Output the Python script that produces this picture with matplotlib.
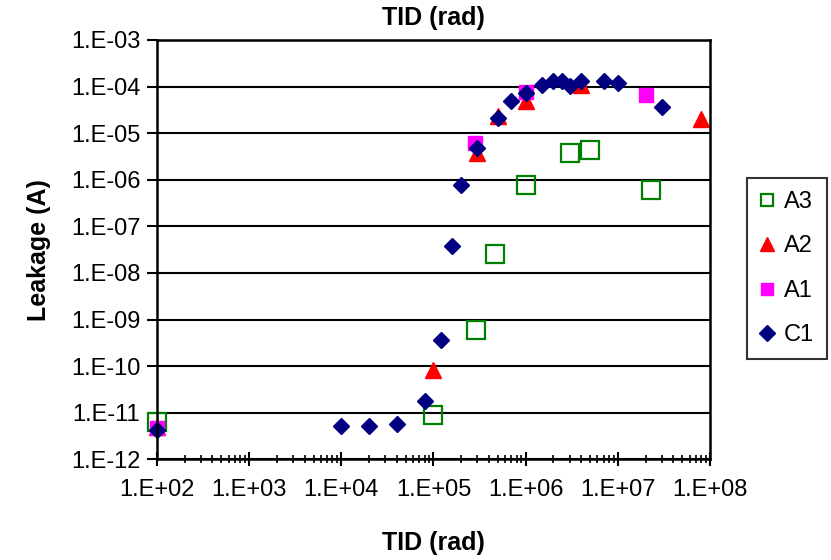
import numpy as np
import matplotlib
matplotlib.use("Agg")
import matplotlib.pyplot as plt
from matplotlib.ticker import LogLocator, FuncFormatter, NullLocator, NullFormatter

plt.rcParams['font.family'] = ['Liberation Sans', 'DejaVu Sans']

# leakage vs total ionizing dose, four parts
a3_tid = [1e2, 1e5, 2.9e5, 4.7e5, 1e6, 3e6, 5e6, 2.3e7]
a3_leak = [6.4e-12, 8.9e-12, 6.0e-10, 2.6e-8, 7.8e-7, 3.8e-6, 4.3e-6, 6.1e-7]

a2_tid = [1e2, 1e5, 3e5, 5e5, 1e6, 4e6, 8e7]
a2_leak = [5e-12, 8.2e-11, 3.7e-6, 2.35e-5, 4.9e-5, 1.09e-4, 2.0e-5]

a1_tid = [1e2, 2.85e5, 1e6, 2e7]
a1_leak = [4.6e-12, 6.1e-6, 7.7e-5, 6.7e-5]

c1_tid = [1e2, 1e4, 2e4, 4e4, 8e4, 1.2e5, 1.6e5, 2e5, 3e5, 5e5, 7e5, 1e6,
          1.5e6, 2e6, 2.5e6, 3e6, 4e6, 7e6, 1e7, 3e7]
c1_leak = [4.2e-12, 5.1e-12, 5.1e-12, 5.6e-12, 1.75e-11, 3.7e-10, 3.7e-8, 7.8e-7,
           4.8e-6, 2.1e-5, 4.8e-5, 7.4e-5, 1.07e-4, 1.32e-4, 1.3e-4, 1.03e-4,
           1.33e-4, 1.33e-4, 1.18e-4, 3.7e-5]

fig = plt.figure(figsize=(8.31, 5.6), dpi=100)
ax = fig.add_axes([157/831, 1-459.3/560, (710-157)/831, (459.3-40)/560])

ax.plot(a3_tid, a3_leak, ls='none', marker='s', ms=12.5, mfc='none', mec='#008000', mew=1.6, label='A3', clip_on=False)
ax.plot(a2_tid, a2_leak, ls='none', marker='^', ms=11.5, mfc='#FF0000', mec='#FF0000', label='A2', clip_on=False)
ax.plot(a1_tid, a1_leak, ls='none', marker='s', ms=9.5, mfc='#FF00FF', mec='#FF00FF', label='A1', clip_on=False)
ax.plot(c1_tid, c1_leak, ls='none', marker='D', ms=7.8, mfc='#000080', mec='#000080', label='C1', clip_on=False)

ax.set_xscale('log')
ax.set_yscale('log')
ax.set_xlim(1e2, 1e8)
ax.set_ylim(1e-12, 1e-3)

fmt = FuncFormatter(lambda v, p: "1.E%+03d" % int(round(np.log10(v))))
ax.xaxis.set_major_locator(LogLocator(base=10, numticks=10))
ax.xaxis.set_minor_locator(LogLocator(base=10, subs=np.arange(2, 10), numticks=20))
ax.yaxis.set_major_locator(LogLocator(base=10, numticks=12))
ax.yaxis.set_minor_locator(NullLocator())
ax.xaxis.set_major_formatter(fmt)
ax.yaxis.set_major_formatter(fmt)
ax.xaxis.set_minor_formatter(NullFormatter())

ax.tick_params(axis='x', which='major', direction='inout', length=10, width=1.5, labelsize=17, pad=9)
ax.tick_params(axis='x', which='minor', direction='inout', length=6, width=1.2)
ax.tick_params(axis='y', which='major', direction='out', length=7, width=1.5, labelsize=17, pad=5)

ax.yaxis.grid(True, which='major', color='black', linewidth=1.5)
ax.set_axisbelow(True)
for s in ax.spines.values():
    s.set_linewidth(1.8)
    s.set_color('black')

fig.text(433/831, 1-18/560, 'TID (rad)', fontsize=18, fontweight='bold', ha='center', va='center')
ax.set_xlabel('TID (rad)', fontsize=18, fontweight='bold', labelpad=22)
ax.set_ylabel('Leakage (A)', fontsize=18, fontweight='bold', labelpad=14)

leg = ax.legend(loc='upper left', bbox_to_anchor=(747/831, 1-178/560), bbox_transform=fig.transFigure,
                borderaxespad=0, fontsize=17, frameon=True, fancybox=False, edgecolor='black',
                labelspacing=0.95, handlelength=0.6, handletextpad=0.4, borderpad=0.55)
leg.get_frame().set_linewidth(1.5)
for h, ms in zip(leg.legend_handles, [8, 10, 8, 8]):
    h.set_markersize(ms)

fig.savefig('out.png', dpi=100)
